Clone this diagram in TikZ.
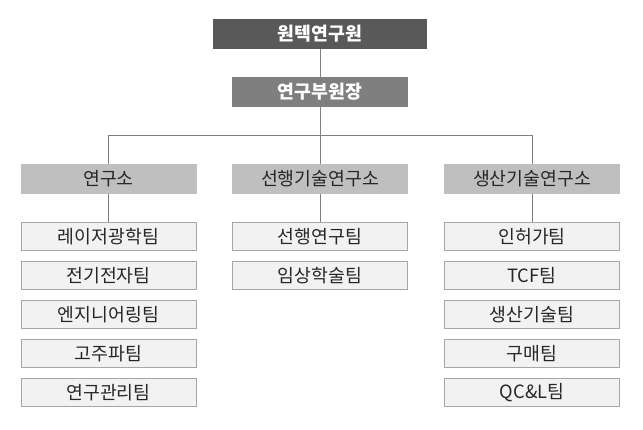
\documentclass[tikz,border=0pt]{standalone}
\usepackage{fontspec}
\setmainfont{Noto Sans CJK KR}
\definecolor{topc}{HTML}{595959}
\definecolor{secc}{HTML}{7F7F7F}
\definecolor{divc}{HTML}{BFBFBF}
\definecolor{teamc}{HTML}{F2F2F2}
\definecolor{teamb}{HTML}{A6A6A6}
\definecolor{linec}{HTML}{808080}
\definecolor{txtc}{HTML}{262626}
\begin{document}
\begin{tikzpicture}[x=1pt,y=-1pt,
  topbox/.style={fill=topc,text=white,font=\fontsize{18.3}{20}\selectfont\bfseries,minimum width=214pt,minimum height=30pt,inner sep=0pt},
  secbox/.style={fill=secc,text=white,font=\fontsize{18.3}{20}\selectfont\bfseries,minimum width=176pt,minimum height=30pt,inner sep=0pt},
  divbox/.style={fill=divc,text=txtc,font=\fontsize{18.3}{20}\selectfont,minimum width=176pt,minimum height=30pt,inner sep=0pt},
  teambox/.style={fill=teamc,draw=teamb,line width=0.9pt,text=txtc,font=\fontsize{18.3}{20}\selectfont,minimum width=175pt,minimum height=28pt,inner sep=0pt},
  conn/.style={draw=linec,line width=0.9pt}]
\useasboundingbox (0,0) rectangle (643,430);
\fill[white] (0,0) rectangle (643,430);
\node[topbox] (top) at (320,34) {원텍연구원};
\node[secbox] (sec) at (320,92) {연구부원장};
\coordinate (j) at (320,135);
\node[divbox] (d1) at (108.5,179) {연구소};
\node[divbox] (d2) at (320,179) {선행기술연구소};
\node[divbox] (d3) at (532,179) {생산기술연구소};
% teams column 1
\node[teambox] (a1) at (108.5,236.7) {레이저광학팀};
\node[teambox] (a2) at (108.5,275.7) {전기전자팀};
\node[teambox] (a3) at (108.5,314.7) {엔지니어링팀};
\node[teambox] (a4) at (108.5,353.7) {고주파팀};
\node[teambox] (a5) at (108.5,392.7) {연구관리팀};
% column 2
\node[teambox] (b1) at (320,236.7) {선행연구팀};
\node[teambox] (b2) at (320,275.7) {임상학술팀};
% column 3
\node[teambox] (c1) at (532,236.7) {인허가팀};
\node[teambox] (c2) at (532,275.7) {TCF팀};
\node[teambox] (c3) at (532,314.7) {생산기술팀};
\node[teambox] (c4) at (532,353.7) {구매팀};
\node[teambox] (c5) at (532,392.7) {QC\&L팀};
% connectors
\draw[conn] (top.south) -- (sec.north);
\draw[conn] (sec.south) -- (j);
\draw[conn] (j) -| (d1.north);
\draw[conn] (j) -| (d3.north);
\draw[conn] (j) -- (d2.north);
\draw[conn] (d1.south) -- (a1.north);
\draw[conn] (d2.south) -- (b1.north);
\draw[conn] (d3.south) -- (c1.north);
\end{tikzpicture}
\end{document}
